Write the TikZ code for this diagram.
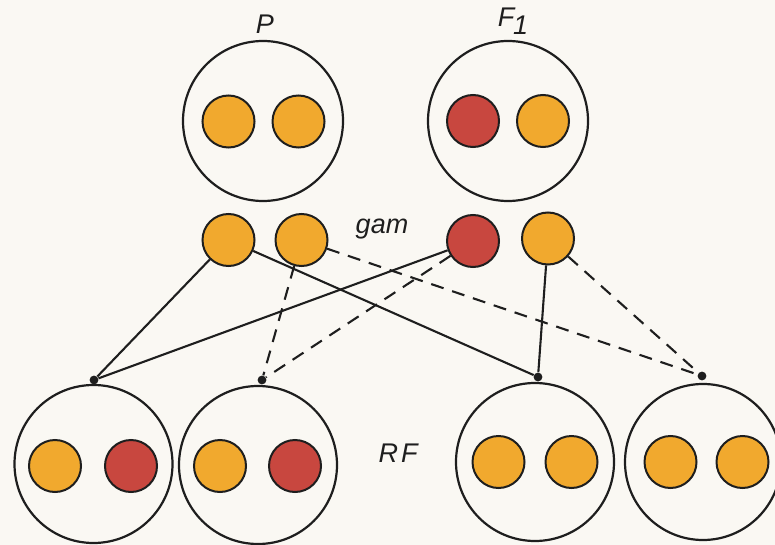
\documentclass[tikz,border=0pt]{standalone}
\usepackage{fontspec}
\setmainfont{Liberation Sans}
\definecolor{gorange}{HTML}{F1A92E}
\definecolor{gred}{HTML}{C8473F}
\definecolor{paper}{HTML}{FAF8F3}
\definecolor{ink}{HTML}{1E1E1E}
\begin{document}
\begin{tikzpicture}[x=0.5pt,y=-0.5pt,
  cell/.style={circle,draw=ink,line width=1.1pt,fill=paper,minimum size=#1,inner sep=0pt},
  gene/.style={circle,draw=ink,line width=1pt,fill=#1,minimum size=26pt,inner sep=0pt},
  jdot/.style={circle,fill=ink,minimum size=4.4pt,inner sep=0pt},
  link/.style={draw=ink,line width=1.05pt},
  dlink/.style={link,dash pattern=on 6.5pt off 4.5pt},
  lab/.style={font=\fontsize{13.5}{16}\selectfont\itshape,text=ink,inner sep=0pt}]
\useasboundingbox (0,0) rectangle (775,545);
\clip (0,0) rectangle (775,545);
\fill[paper] (0,0) rectangle (775,545);

% labels
\node[lab] (lP) at (265,24) {P};
\node[lab] (lF) at (513,21) {F\kern-0.5pt\raisebox{-0.6ex}{1}};
\node[lab] (lgam) at (382,229) {gam};
\node[lab] (lRF) at (398,453) {R\kern1.5pt F};

% parents
\node[cell=80pt] (cP) at (263,121) {};
\node[cell=80pt] (cF) at (508,121) {};
\node[gene=gorange] (p1) at (228.5,121.5) {};
\node[gene=gorange] (p2) at (298.5,121.5) {};
\node[gene=gred] (f1) at (473,121) {};
\node[gene=gorange] (f2) at (543,121) {};

% gametes
\node[gene=gorange] (g1) at (228.5,240) {};
\node[gene=gorange] (g2) at (301.5,240) {};
\node[gene=gred] (g3) at (473,241) {};
\node[gene=gorange] (g4) at (548,238.5) {};

% junction dots
\node[jdot] (d1) at (94,380) {};
\node[jdot] (d2) at (262,380) {};
\node[jdot] (d3) at (538,377) {};
\node[jdot] (d4) at (702,376) {};

% connectors
\draw[link] (g1) -- (d1);
\draw[link] (g1) -- (d3);
\draw[dlink] (g2) -- (d2);
\draw[dlink] (g2) -- (d4);
\draw[link] (g3) -- (d1);
\draw[dlink] (g3) -- (d2);
\draw[link] (g4) -- (d3);
\draw[dlink] (g4) -- (d4);

% offspring
\node[cell=79pt] (r1) at (93.5,464) {};
\node[cell=79pt] (r2) at (258,465) {};
\node[cell=79pt] (r3) at (535,462) {};
\node[cell=78pt] (r4) at (703,462) {};
\node[gene=gorange] (r1a) at (55,466) {};
\node[gene=gred] (r1b) at (131,466) {};
\node[gene=gorange] (r2a) at (220,466) {};
\node[gene=gred] (r2b) at (295,466) {};
\node[gene=gorange] (r3a) at (498.5,462) {};
\node[gene=gorange] (r3b) at (571.5,462) {};
\node[gene=gorange] (r4a) at (670.5,462) {};
\node[gene=gorange] (r4b) at (742.5,462) {};
\end{tikzpicture}
\end{document}
